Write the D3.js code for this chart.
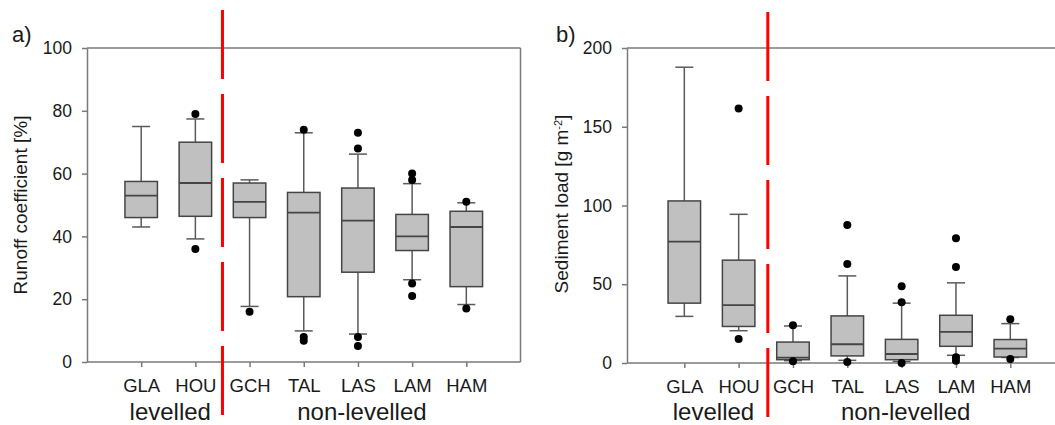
<!DOCTYPE html>
<html>
<head>
<meta charset="utf-8">
<script src="https://cdn.jsdelivr.net/npm/d3@7"></script>
<style>
  html, body { margin: 0; padding: 0; background: #fff; }
  svg { display: block; font-family: "Liberation Sans", Arial, sans-serif; }
</style>
</head>
<body>
<svg id="chart" width="1055" height="425"></svg>
<script>
// ---- data ----
const categories = ["GLA", "HOU", "GCH", "TAL", "LAS", "LAM", "HAM"];
const groupLabels = ["levelled", "non-levelled"];

// a) Runoff coefficient [%]
const runoffLow  = [43, 39.2, 17.7, 9.9, 8.9, 26.2, 18.3];
const runoffQ1   = [46, 46.4, 46, 20.8, 28.6, 35.5, 24];
const runoffMed  = [53, 57, 51, 47.6, 45, 40, 43];
const runoffQ3   = [57.5, 70, 57, 54, 55.4, 47, 48];
const runoffHigh = [75, 77.4, 58, 73, 66.2, 56.8, 50.7];
const runoffOut  = [[], [79, 36], [16], [74, 8, 6.8], [73, 68, 8, 5.1], [60, 58, 25, 21], [51, 17]];
const runoffTicks = [0, 20, 40, 60, 80, 100];

// b) Sediment load [g m-2]
const sedLow  = [29.6, 20.5, 1.5, 1.7, 1, 4.9, 3.5];
const sedQ1   = [38, 23.2, 2.1, 4.5, 2.1, 10.6, 3.8];
const sedMed  = [77.1, 36.7, 3.4, 11.9, 5.7, 19.7, 9.1];
const sedQ3   = [102.9, 65.3, 13.3, 29.9, 15, 30.3, 14.9];
const sedHigh = [187.8, 94.4, 23.5, 55.3, 38, 50.9, 25];
const sedOut  = [[], [161.6, 15.2], [24, 1.1], [87.6, 62.9, 0.6], [48.8, 38.6, 0], [79.2, 61, 3.6, 1.5], [27.8, 2.5]];
const sedTicks = [0, 50, 100, 150, 200];

// ---- drawing ----
const svg = d3.select("#chart");
const axisColor = "#7a7a7a";
const boxStroke = "#454545";
const whiskerColor = "#5a5a5a";

function panel(opt) {
  const g = svg.append("g");
  const x = d3.scaleLinear().domain(opt.xDomain).range(opt.xRange);
  const y = d3.scaleLinear().domain(opt.yDomain).range(opt.yRange);
  const pos = i => x(i + 1);

  // frame lines (top / right)
  g.append("line").attr("x1", opt.xRange[0]).attr("x2", opt.frameRight)
    .attr("y1", y(opt.yDomain[1])).attr("y2", y(opt.yDomain[1]))
    .attr("stroke", axisColor).attr("stroke-width", 1.5);
  if (opt.drawRight) {
    g.append("line").attr("x1", opt.frameRight).attr("x2", opt.frameRight)
      .attr("y1", y(opt.yDomain[1])).attr("y2", y(0))
      .attr("stroke", axisColor).attr("stroke-width", 1.5);
  }

  // axes
  const yAxis = g.append("g").attr("transform", `translate(${opt.xRange[0]},0)`)
    .call(d3.axisLeft(y).tickValues(opt.ticks).tickSize(5).tickSizeOuter(0).tickPadding(10));
  yAxis.selectAll("path, line").attr("stroke", axisColor).attr("stroke-width", 1.5);
  yAxis.selectAll("text").attr("font-size", 17.5).attr("fill", "#1a1a1a")
    .attr("font-family", "Liberation Sans, Arial, sans-serif");

  const xAxis = g.append("g").attr("transform", `translate(0,${y(0)})`)
    .call(d3.axisBottom(x).tickValues(d3.range(1, categories.length + 1))
      .tickFormat(d => categories[d - 1]).tickSize(5).tickSizeOuter(0).tickPadding(12));
  xAxis.select("path").attr("d", `M${opt.xRange[0]},0H${opt.frameRight}`);
  xAxis.selectAll("path, line").attr("stroke", axisColor).attr("stroke-width", 1.5);
  xAxis.selectAll("text").attr("font-size", 18.5).attr("fill", "#1a1a1a")
    .attr("font-family", "Liberation Sans, Arial, sans-serif");

  // boxes
  const bw = 32.5, cw = 18;
  const d = categories.map((c, i) => ({
    i, low: opt.low[i], q1: opt.q1[i], med: opt.med[i], q3: opt.q3[i], high: opt.high[i], out: opt.out[i]
  }));
  const bg = g.selectAll("g.box").data(d).enter().append("g").attr("class", "box");
  // whiskers
  bg.append("line").attr("x1", e => pos(e.i)).attr("x2", e => pos(e.i))
    .attr("y1", e => y(e.q3)).attr("y2", e => y(e.high))
    .attr("stroke", whiskerColor).attr("stroke-width", 1.5);
  bg.append("line").attr("x1", e => pos(e.i)).attr("x2", e => pos(e.i))
    .attr("y1", e => y(e.q1)).attr("y2", e => y(e.low))
    .attr("stroke", whiskerColor).attr("stroke-width", 1.5);
  // caps
  ["high", "low"].forEach(k => {
    bg.append("line").attr("x1", e => pos(e.i) - cw / 2).attr("x2", e => pos(e.i) + cw / 2)
      .attr("y1", e => y(e[k])).attr("y2", e => y(e[k]))
      .attr("stroke", whiskerColor).attr("stroke-width", 1.5);
  });
  // box
  bg.append("rect").attr("x", e => pos(e.i) - bw / 2).attr("width", bw)
    .attr("y", e => y(e.q3)).attr("height", e => y(e.q1) - y(e.q3))
    .attr("fill", "#c0c0c0").attr("stroke", boxStroke).attr("stroke-width", 1.5);
  // median
  bg.append("line").attr("x1", e => pos(e.i) - bw / 2).attr("x2", e => pos(e.i) + bw / 2)
    .attr("y1", e => y(e.med)).attr("y2", e => y(e.med))
    .attr("stroke", boxStroke).attr("stroke-width", 1.8);
  // outliers
  bg.selectAll("circle").data(e => e.out.map(v => ({ i: e.i, v }))).enter().append("circle")
    .attr("cx", o => pos(o.i)).attr("cy", o => y(o.v)).attr("r", 4).attr("fill", "#000");

  // group labels
  g.append("text").attr("x", x(1.5) + 2).attr("y", 420).attr("text-anchor", "middle")
    .attr("font-size", 24).attr("fill", "#1a1a1a").text(groupLabels[0]);
  g.append("text").attr("x", x(5) + 4).attr("y", 420).attr("text-anchor", "middle")
    .attr("font-size", 24).attr("fill", "#1a1a1a").text(groupLabels[1]);

  // separator
  g.append("line").attr("x1", x(2.5) + opt.sepShift).attr("x2", x(2.5) + opt.sepShift)
    .attr("y1", opt.sepTop).attr("y2", opt.sepTop + 406)
    .attr("stroke", "#ff0000").attr("stroke-width", 3).attr("stroke-dasharray", "69,15");

  // panel letter
  g.append("text").attr("x", opt.letterX).attr("y", 42).attr("font-size", 22)
    .attr("fill", "#1a1a1a").text(opt.letter);

  // y label
  const yl = g.append("text")
    .attr("transform", `translate(${opt.ylabX},${opt.ylabY}) rotate(-90)`)
    .attr("text-anchor", "middle").attr("font-size", 19).attr("fill", "#1a1a1a");
  opt.ylabel(yl);
}

panel({
  xDomain: [0, 8], xRange: [87, 520.5], frameRight: 520.5, drawRight: true,
  yDomain: [0, 100], yRange: [362, 48], ticks: runoffTicks,
  low: runoffLow, q1: runoffQ1, med: runoffMed, q3: runoffQ3, high: runoffHigh, out: runoffOut,
  sepTop: 10, sepShift: 0, letter: "a)", letterX: 12, ylabX: 27, ylabY: 205,
  ylabel: t => t.text("Runoff coefficient [%]")
});

panel({
  xDomain: [-0.055, 8], xRange: [627, 627 + 8.055 * 54.33], frameRight: 1055, drawRight: false,
  yDomain: [0, 200], yRange: [363, 48], ticks: sedTicks,
  low: sedLow, q1: sedQ1, med: sedMed, q3: sedQ3, high: sedHigh, out: sedOut,
  sepTop: 12, sepShift: 2, letter: "b)", letterX: 556, ylabX: 568, ylabY: 204,
  ylabel: t => {
    t.append("tspan").text("Sediment load [g m");
    t.append("tspan").attr("font-size", 11).attr("baseline-shift", "super").text("-2");
    t.append("tspan").text("]");
  }
});
</script>
</body>
</html>
